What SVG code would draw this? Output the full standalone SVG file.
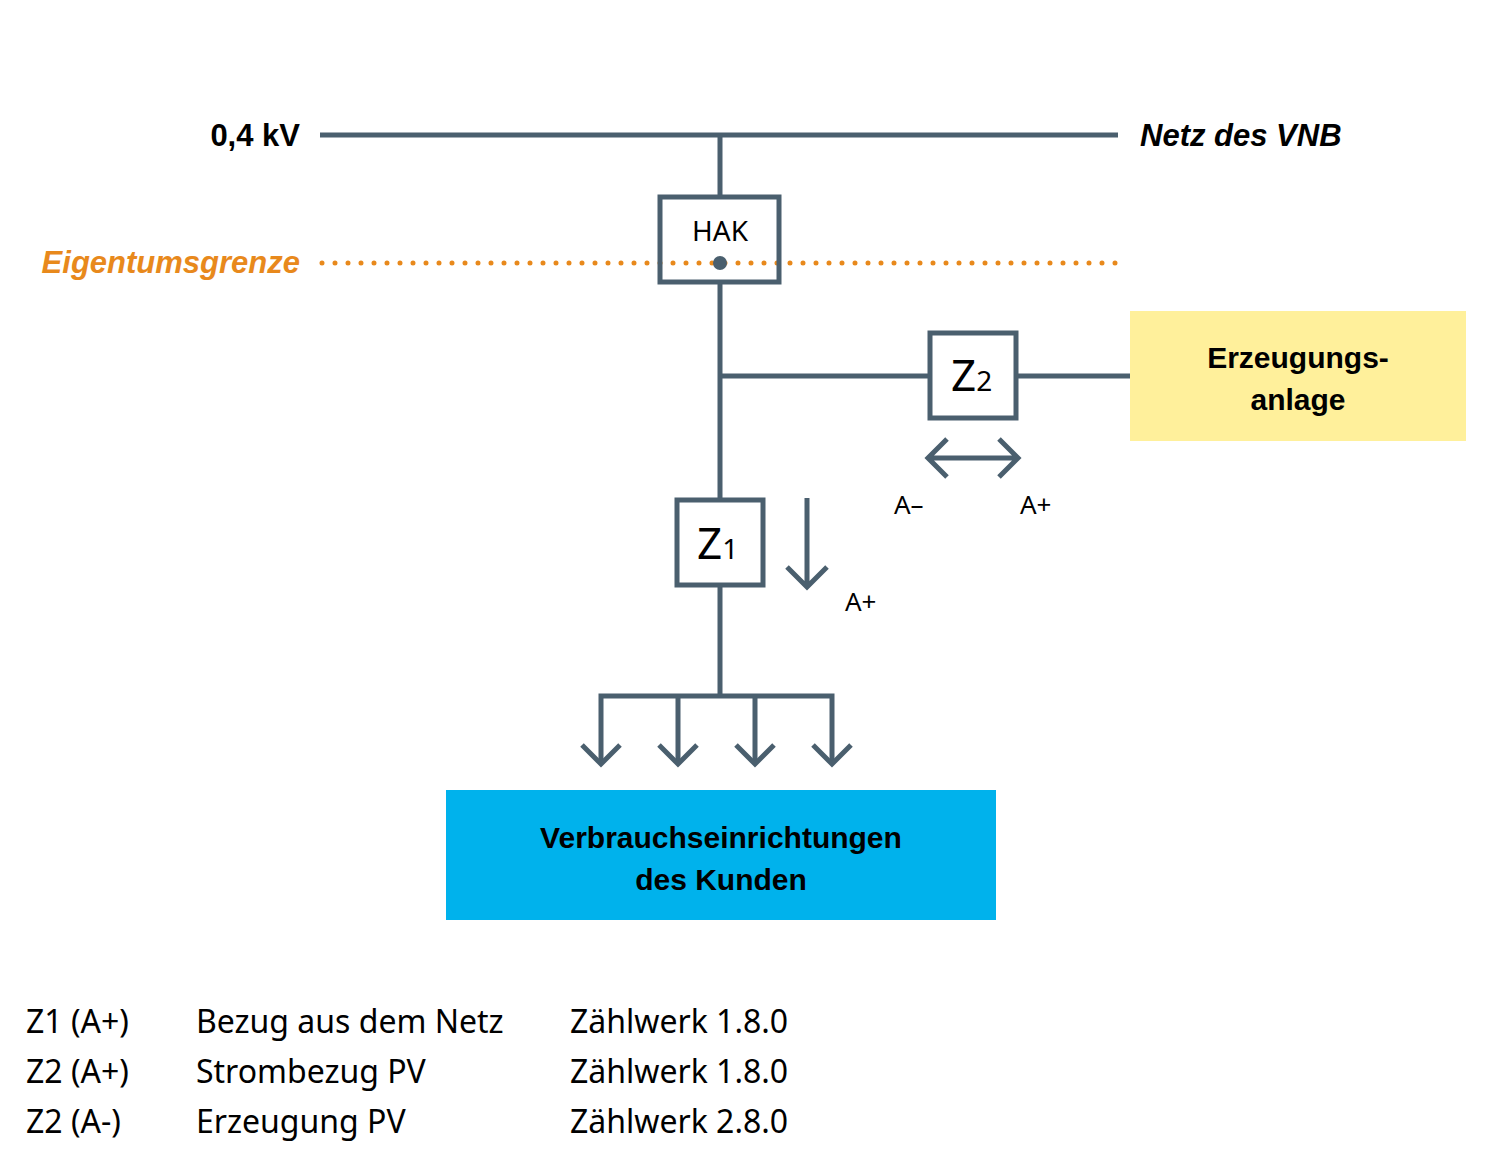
<svg xmlns="http://www.w3.org/2000/svg" width="1494" height="1161" viewBox="0 0 1494 1161">
<style>
.w{stroke:#4a5f6e;stroke-width:5;fill:none}
.b{fill:#fff;stroke:#4a5f6e;stroke-width:5}
.t{font-family:"Noto Sans","Liberation Sans",sans-serif;fill:#000}
.h{font-family:"Liberation Sans",sans-serif;font-weight:bold;fill:#000}
</style>
<rect width="1494" height="1161" fill="#fff"/>
<g id="connectors">
<path class="w" d="M320 135H1118M720 135V197M720 282V499M720 376H930M1016 376H1130M720 585V696M601 762V696H832V762M678 696V762M755 696V762"/>
<path class="w" d="M582 745L601 764L620 745M659 745L678 764L697 745M736 745L755 764L774 745M813 745L832 764L851 745"/>
<path class="w" d="M807 498V586M787 567L807 587L827 567"/>
<path class="w" d="M928 458H1018M947 439L928 458L947 477M999 439L1018 458L999 477"/>
<line x1="322" y1="263" x2="1118" y2="263" stroke="#e8891c" stroke-width="5" stroke-linecap="round" stroke-dasharray="0 13"/>
</g>
<g id="hak"><rect class="b" x="660" y="197" width="119" height="85" fill-opacity="0"/><text class="t" x="720" y="241" font-size="28" text-anchor="middle">HAK</text><circle cx="720" cy="263" r="7" fill="#4a5f6e"/></g>
<g id="z2"><rect class="b" x="930" y="333" width="86" height="85"/><text class="t" x="951" y="391" font-size="44">Z<tspan font-size="28">2</tspan></text></g>
<g id="z1"><rect class="b" x="677" y="500" width="86" height="85"/><text class="t" x="697" y="559" font-size="44">Z<tspan font-size="28">1</tspan></text></g>
<g id="erz"><rect x="1130" y="311" width="336" height="130" fill="#fff09b"/><text class="h" font-size="30" text-anchor="middle"><tspan x="1298" y="368">Erzeugungs-</tspan><tspan x="1298" y="410">anlage</tspan></text></g>
<g id="verb"><rect x="446" y="790" width="550" height="130" fill="#00b2ec"/><text class="h" font-size="30" text-anchor="middle"><tspan x="721" y="848">Verbrauchseinrichtungen</tspan><tspan x="721" y="890">des Kunden</tspan></text></g>
<g id="labels">
<text class="h" x="300" y="146" font-size="31" text-anchor="end">0,4 kV</text>
<text class="h" x="1140" y="146" font-size="31" font-style="italic">Netz des VNB</text>
<text class="h" x="300" y="273" font-size="31" font-style="italic" fill="#e8891c" text-anchor="end" style="fill:#e8891c">Eigentumsgrenze</text>
<text class="t" x="894" y="514" font-size="26">A–</text>
<text class="t" x="1020" y="514" font-size="26">A+</text>
<text class="t" x="845" y="611" font-size="26">A+</text>
</g>
<g id="legend" class="t" font-size="32" fill="#222">
<text x="26" y="1033">Z1  (A+)</text><text x="196" y="1033">Bezug aus dem Netz</text><text x="570" y="1033">Zählwerk  1.8.0</text>
<text x="26" y="1083">Z2  (A+)</text><text x="196" y="1083">Strombezug PV</text><text x="570" y="1083">Zählwerk  1.8.0</text>
<text x="26" y="1133">Z2  (A-)</text><text x="196" y="1133">Erzeugung PV</text><text x="570" y="1133">Zählwerk  2.8.0</text>
</g>
</svg>
